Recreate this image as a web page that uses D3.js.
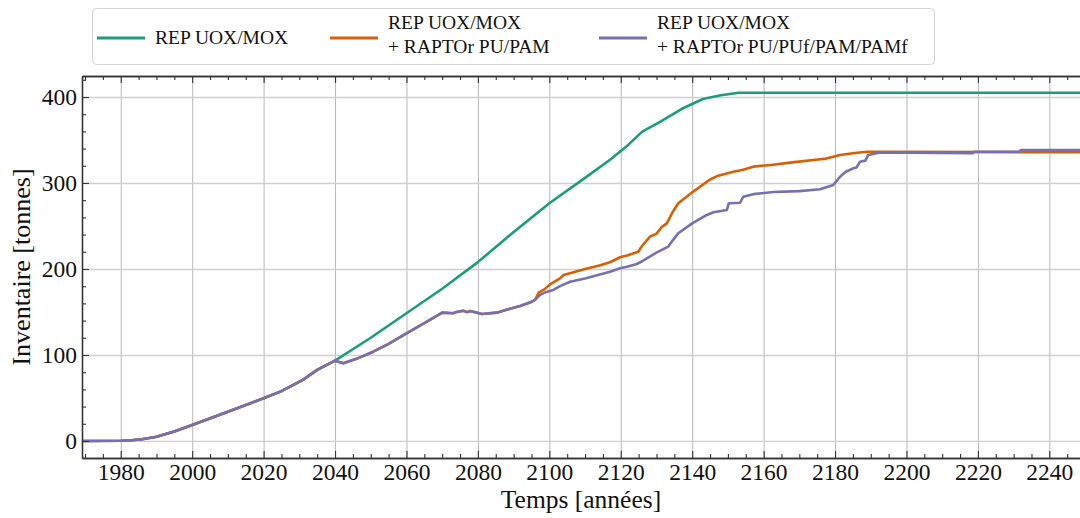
<!DOCTYPE html>
<html>
<head>
<meta charset="utf-8">
<script src="https://d3js.org/d3.v7.min.js"></script>
<style>
  body { margin: 0; background: #fff; }
  svg { font-family: "Liberation Serif", "DejaVu Serif", serif; }
</style>
</head>
<body>
<svg id="chart"></svg>
<script>
// data (years / inventory in tonnes)
const repYears  = [1969, 1980, 1983, 1986, 1990, 1995, 2000, 2010, 2020, 2025, 2031, 2035, 2040, 2050, 2060, 2070, 2080, 2089, 2100, 2110, 2117, 2122, 2126, 2131, 2137, 2143, 2148, 2153, 2249];
const repValues = [0, 0.3, 0.8, 2, 5, 11, 18.6, 34, 49.6, 58, 71, 82.6, 93.4, 120, 148.5, 177, 208, 239.5, 276.4, 306, 327, 344, 359.7, 371, 386, 397.7, 402, 405, 405];

// common part of both RAPTOr scenarios (until split around 2096)
const commonYears  = [1969, 1980, 1983, 1986, 1990, 1995, 2000, 2010, 2020, 2025, 2031, 2035, 2040, 2042.3, 2046, 2050.7, 2055, 2060, 2065, 2070, 2073, 2074, 2075.9, 2077, 2077.8, 2079, 2081.1, 2085.3, 2088, 2091.8, 2095.1, 2096];
const commonValues = [0, 0.3, 0.8, 2, 5, 11, 18.6, 34, 49.6, 58, 71, 82.6, 93.4, 90.3, 95.5, 103.8, 113, 125.2, 137, 149.2, 148.5, 150, 151.5, 149.8, 151, 150, 147.7, 149.2, 152.5, 157, 162, 164];

const pamYears  = [2097, 2098.5, 2100.2, 2103, 2104, 2106.3, 2110, 2114, 2117, 2119.8, 2122, 2124.9, 2126, 2128.2, 2130, 2131.5, 2132.9, 2134.5, 2136.1, 2140.3, 2145, 2147, 2151.5, 2154, 2157.1, 2162, 2168, 2175.8, 2177, 2181.4, 2185, 2188.9, 2249];
const pamValues = [172.4, 176, 182, 189, 193, 195.7, 200, 204, 207.8, 213.6, 216, 220, 227, 237.6, 241, 249, 253, 266, 276.4, 290, 304, 308, 313, 315, 319, 321, 324, 327.5, 328, 332.6, 334.5, 336.4, 335.7];

const pufYears  = [2097.4, 2099, 2101.1, 2103, 2105.8, 2110, 2117, 2119.8, 2122, 2124.5, 2126, 2127.3, 2130, 2133.3, 2134.5, 2136.1, 2140, 2144.1, 2146, 2149.7, 2150.2, 2150.6, 2153.4, 2154.3, 2157.1, 2162.7, 2170, 2175.8, 2179.5, 2181.4, 2183, 2185.1, 2186, 2187, 2188.5, 2189.3, 2192.6, 2218.5, 2218.9, 2231.6, 2232, 2249];
const pufValues = [169.8, 173, 175.6, 180, 185.2, 189, 196.9, 200.8, 203, 205.8, 209, 212.4, 219, 226, 233, 241.5, 253, 262.8, 266, 268.6, 276, 276.4, 277, 284, 287, 289.5, 290.5, 292.7, 297.7, 307.3, 313, 317, 318, 324.8, 326, 332.6, 335.5, 334.5, 336.4, 336.4, 338.4, 338.4];

const seriesNames = ["REP UOX/MOX", "REP UOX/MOX\n+ RAPTOr PU/PAM", "REP UOX/MOX\n+ RAPTOr PU/PUf/PAM/PAMf"];
const seriesColors = ["#1b9e77", "#d95f02", "#7570b3"];
const xTicks = d3.range(1980, 2241, 20);
const yTicks = [0, 100, 200, 300, 400];

function zip(xs, ys) { return xs.map((x, i) => [x, ys[i]]); }
const series = [
  zip(repYears, repValues),
  zip(commonYears, commonValues).concat(zip(pamYears, pamValues)),
  zip(commonYears, commonValues).concat(zip(pufYears, pufValues))
];

const W = 1080, H = 518;
const mLeft = 82, mTop = 76, mBottom = 458;
const svg = d3.select('#chart').attr('width', W).attr('height', H);

const x = d3.scaleLinear().domain([1969.15, 2250]).range([mLeft, mLeft + (2250 - 1969.15) * 3.5715]);
const y = d3.scaleLinear().domain([-19.8, 424.4]).range([mBottom, mTop]);
const mRight = x(2250);

svg.append('clipPath').attr('id', 'clip')
  .append('rect').attr('x', mLeft).attr('y', mTop).attr('width', mRight - mLeft).attr('height', mBottom - mTop);

// grid
svg.append('g').attr('transform', `translate(0,${mBottom})`)
  .call(d3.axisBottom(x).tickValues(xTicks).tickSize(-(mBottom - mTop)).tickFormat(''))
  .call(g => g.select('.domain').remove())
  .call(g => g.selectAll('line').attr('stroke', '#b8b8b8').attr('stroke-width', 1));
svg.append('g').attr('transform', `translate(${mLeft},0)`)
  .call(d3.axisLeft(y).tickValues(yTicks).tickSize(-(mRight - mLeft)).tickFormat(''))
  .call(g => g.select('.domain').remove())
  .call(g => g.selectAll('line').attr('stroke', '#cfcfcf').attr('stroke-width', 1.3));

// lines
const line = d3.line().x(d => x(d[0])).y(d => y(d[1]));
svg.append('g').attr('clip-path', 'url(#clip)')
  .selectAll('path').data([0, 1, 2]).join('path')
  .attr('d', i => line(series[i]))
  .attr('fill', 'none')
  .attr('stroke', i => seriesColors[i])
  .attr('stroke-width', 2.6)
  .attr('stroke-linejoin', 'round');

// axes, ticks pointing inward
const minorX = d3.range(1970, 2250, 5).filter(v => v % 20 !== 0);
const minorY = d3.range(-20, 421, 20).filter(v => v % 100 !== 0 && v > -19.8);

function styleAxis(g) {
  g.selectAll('.domain').attr('stroke', '#333').attr('stroke-width', 1.3);
  g.selectAll('line').attr('stroke', '#333').attr('stroke-width', 1.1);
  g.selectAll('text').attr('fill', '#111').style('font-size', '23.5px')
    .style('font-family', '"Liberation Serif", serif');
}

svg.append('g').attr('transform', `translate(0,${mBottom})`)
  .call(d3.axisBottom(x).tickValues(minorX).tickSize(-4).tickSizeOuter(0).tickFormat(''))
  .call(styleAxis);
svg.append('g').attr('transform', `translate(0,${mBottom})`)
  .call(d3.axisBottom(x).tickValues(xTicks).tickSize(-7).tickSizeOuter(0).tickPadding(5).tickFormat(d3.format('d')))
  .call(styleAxis);
svg.append('g').attr('transform', `translate(0,${mTop})`)
  .call(d3.axisTop(x).tickValues(minorX).tickSize(-4).tickSizeOuter(0).tickFormat(''))
  .call(styleAxis);
svg.append('g').attr('transform', `translate(0,${mTop})`)
  .call(d3.axisTop(x).tickValues(xTicks).tickSize(-7).tickSizeOuter(0).tickFormat(''))
  .call(styleAxis);
svg.append('g').attr('transform', `translate(${mLeft},0)`)
  .call(d3.axisLeft(y).tickValues(minorY).tickSize(-4).tickSizeOuter(0).tickFormat(''))
  .call(styleAxis);
svg.append('g').attr('transform', `translate(${mLeft},0)`)
  .call(d3.axisLeft(y).tickValues(yTicks).tickSize(-7).tickSizeOuter(0).tickPadding(5).tickFormat(d3.format('d')))
  .call(styleAxis);

// axis titles
svg.append('text')
  .attr('x', (mLeft + W) / 2).attr('y', 508)
  .attr('text-anchor', 'middle')
  .style('font-size', '25.5px').attr('fill', '#111')
  .text('Temps [années]');
svg.append('text')
  .attr('transform', `translate(30,${(mTop + mBottom) / 2}) rotate(-90)`)
  .attr('text-anchor', 'middle')
  .style('font-size', '26px').attr('fill', '#111')
  .text('Inventaire [tonnes]');

// legend
const legend = svg.append('g');
legend.append('rect')
  .attr('x', 92.5).attr('y', 8.5).attr('width', 842).attr('height', 56).attr('rx', 4)
  .attr('fill', '#fff').attr('stroke', '#d4d4d4').attr('stroke-width', 1);
const legendX = [97, 330, 599];
seriesNames.forEach((name, i) => {
  const g = legend.append('g').attr('transform', `translate(${legendX[i]},0)`);
  g.append('line').attr('x1', 0).attr('x2', 48).attr('y1', 38).attr('y2', 38)
    .attr('stroke', seriesColors[i]).attr('stroke-width', 3);
  const lines = name.split('\n');
  const t = g.append('text').attr('x', 58).style('font-size', '19.5px').attr('fill', '#111');
  lines.forEach((l, j) => {
    const base = lines.length === 1 ? 44 : 29 + j * 24;
    t.append('tspan').attr('x', 58).attr('y', base).text(l);
  });
});
</script>
</body>
</html>
